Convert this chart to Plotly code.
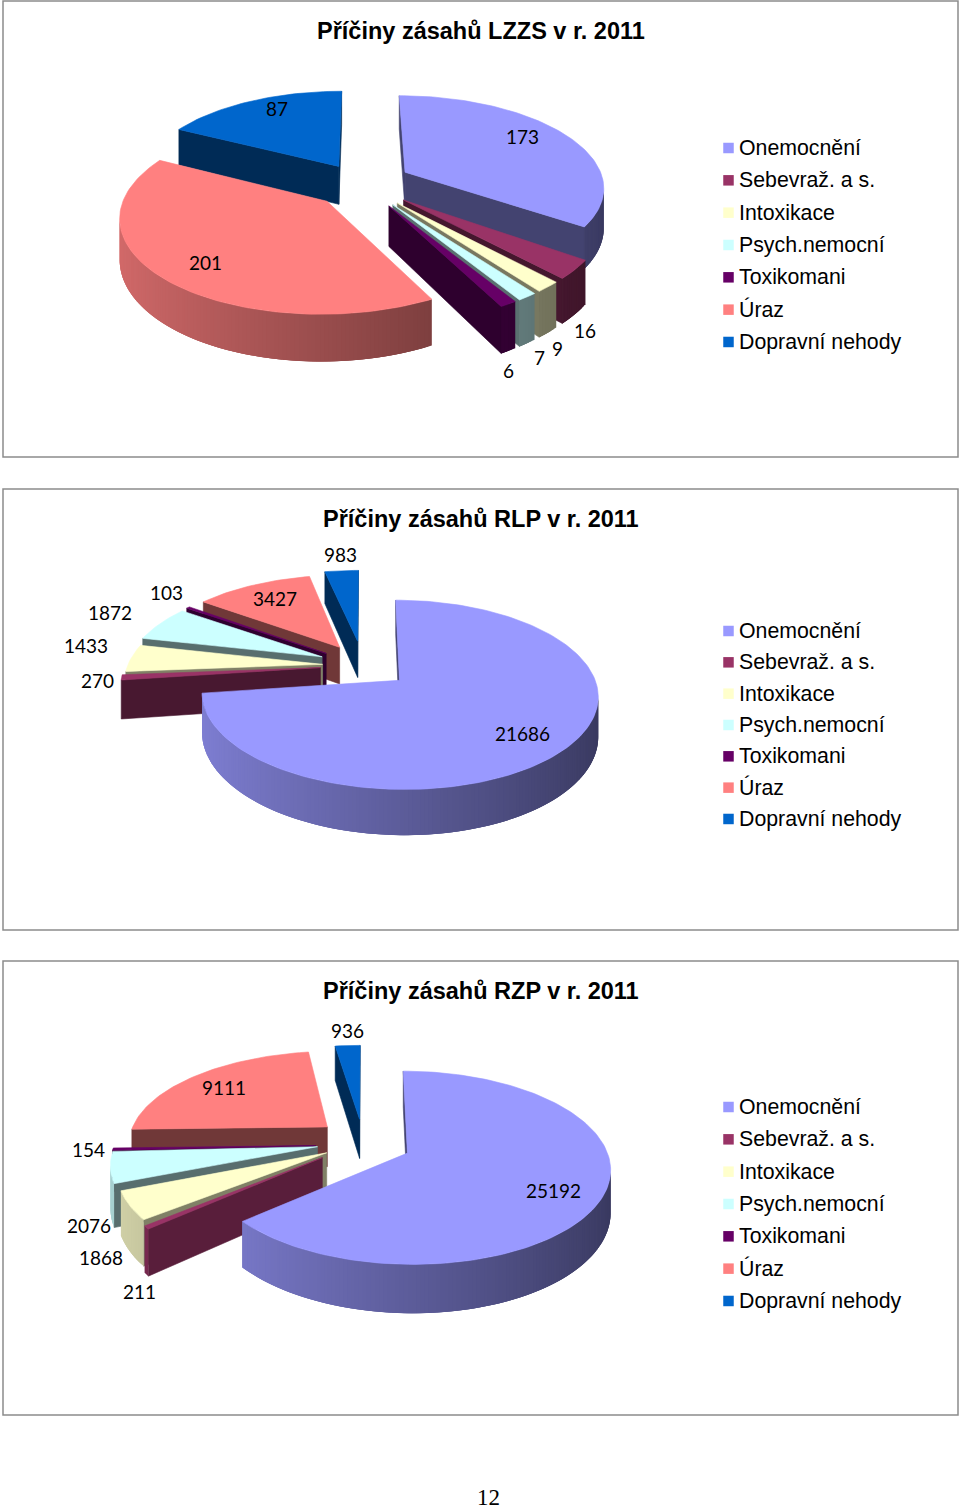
import math
import plotly.graph_objects as go

CATEGORIES = ["Onemocnění", "Sebevraž. a s.", "Intoxikace", "Psych.nemocní", "Toxikomani", "Úraz", "Dopravní nehody"]
LZZS_VALUES = [173, 16, 9, 7, 6, 201, 87]
RLP_VALUES = [21686, 270, 1433, 1872, 103, 3427, 983]
RZP_VALUES = [25192, 211, 1868, 2076, 154, 9111, 936]
TITLES = ["Příčiny zásahů LZZS v r. 2011", "Příčiny zásahů RLP v r. 2011", "Příčiny zásahů RZP v r. 2011"]
PAGE_NUMBER = "12"

COLORS = [(153, 153, 255), (153, 51, 102), (255, 255, 204), (204, 255, 255), (102, 0, 102), (255, 128, 128), (0, 102, 204)]

P = 0.15
CHARTS = [
    dict(values=LZZS_VALUES, title=TITLES[0], cx=360, cy=183, rx=199, ry=91, d=39,
         explode=[.26, .28, .28, .28, .28, .23, .22],
         nudge=[(0, 0), (0, 0), (0, 0), (0, 0), (0, 0), (0, 3), (1, 0)],
         scale=[1, .965, .965, .965, .965, 1, 1],
         order=[6, 0, 5, 1, 2, 3, 4], wall=[.44, .45, .47, .44, .45, .44, .42],
         frame=(3, 1, 958, 457), title_y=31, legend_y=148, legend_step=32.33,
         labels=[(522, 136), (585, 330), (557, 348), (539, 357), (508, 370), (205, 262), (277, 108)]),
    dict(values=RLP_VALUES, title=TITLES[1], cx=370, cy=669, rx=195, ry=89, d=38,
         explode=[.19, .27, .26, .285, .285, .30, .33],
         nudge=[(1, 0), (3, -4), (3, -3), (2, -2), (0, -1), (0, 0), (-6, 0)],
         scale=[.985, 1, 1, 1, 1, 1, 1],
         order=[6, 5, 4, 3, 2, 1, 0], wall=[.44, .47, .5, .43, .45, .44, .42],
         frame=(3, 489, 958, 930), title_y=519, legend_y=631, legend_step=31.33,
         labels=[(522, 733), (97, 680), (86, 645), (110, 612), (166, 592), (275, 598), (340, 554)]),
    dict(values=RZP_VALUES, title=TITLES[2], cx=375, cy=1146.5, rx=201, ry=92.4, d=41,
         explode=[.17, .33, .30, .31, .31, .34, .31],
         nudge=[(1, 0), (0, -9), (5, -8), (4, -6), (3, -2), (3, 0), (-11, 0)],
         scale=[.985, .96, 1, 1, 1, 1, 1],
         order=[6, 5, 4, 3, 2, 1, 0], wall=[.44, .58, .5, .43, .45, .44, .42],
         frame=(3, 961, 958, 1415), title_y=991, legend_y=1107, legend_step=32.33,
         labels=[(553, 1190), (139, 1291), (101, 1257), (89, 1225), (88, 1149), (224, 1087), (347, 1030)]),
]

LABEL_FONT = "Lato, Open Sans, sans-serif"
SANS = "Liberation Sans, Arial, sans-serif"


def rgb(c, f=1.0):
    return "rgb(%d,%d,%d)" % tuple(min(255, round(x * f)) for x in c)


fig = go.Figure()


def poly(xs, ys, color, lw=0.6):
    fig.add_trace(go.Scatter(x=xs + xs[:1], y=ys + ys[:1], mode="lines", fill="toself", fillcolor=color,
                             line=dict(color=color, width=lw), hoverinfo="skip", showlegend=False))


def draw_slice(ch, a1, a2, e, nudge, base, wall_f, sc):
    mid = math.radians((a1 + a2) / 2)
    ou, ov = e * math.sin(mid), e * math.cos(mid)

    def proj(u, v, z=0.0):
        w = 1 + P * v
        return (ch["cx"] + ch["rx"] * u / w + nudge[0], ch["cy"] - ch["ry"] * v / w + ch["d"] * z / w + nudge[1])

    def rim(deg):
        t = math.radians(deg)
        return ou + sc * math.sin(t), ov + math.cos(t)

    def faces_viewer(nu, nv, u, v):
        return nu * (-u) + nv * (-1 / P - v) > 0

    # radial walls
    for ang, off in ((a1, -90), (a2, 90)):
        n = math.radians(ang + off)
        ru, rv = rim(ang)
        if faces_viewer(math.sin(n), math.cos(n), (ou + ru) / 2, (ov + rv) / 2):
            pts = [proj(ou, ov), proj(ru, rv), proj(ru, rv, 1), proj(ou, ov, 1)]
            poly([p[0] for p in pts], [p[1] for p in pts], rgb(base, wall_f))
    # outer wall, as shaded strips, each overlapping the next so no seams show
    n_strips = max(1, int((a2 - a1) / 1.0))
    step = (a2 - a1) / n_strips
    visible = []
    for i in range(n_strips):
        s0, s1 = a1 + i * step, a1 + (i + 1) * step
        m = math.radians((s0 + s1) / 2)
        mu, mv = rim((s0 + s1) / 2)
        if faces_viewer(math.sin(m), math.cos(m), mu, mv):
            visible.append((s0, s1, m))
    for s0, s1, m in visible:
        f = 0.6 - 0.23 * math.sin(m)
        end = min(s1 + 2 * step, visible[-1][1])
        arc = [s0, (s0 + end) / 2, end]
        top = [proj(*rim(a)) for a in arc]
        bot = [proj(*rim(a), 1) for a in reversed(arc)]
        pts = top + bot
        poly([p[0] for p in pts], [p[1] for p in pts], rgb(base, f), lw=0)
    # top face
    n_top = max(2, int((a2 - a1) / 1.5))
    pts = [proj(ou, ov)] + [proj(*rim(a1 + (a2 - a1) * i / n_top)) for i in range(n_top + 1)]
    poly([p[0] for p in pts], [p[1] for p in pts], rgb(base))


annotations = []
shapes = []
for ch in CHARTS:
    x0, y0, x1, y1 = ch["frame"]
    shapes.append(dict(type="rect", x0=x0, y0=y0, x1=x1, y1=y1, xref="x", yref="y",
                       line=dict(color="#8c8c8c", width=1.5), fillcolor="white", layer="below"))
    vals = ch["values"]
    total = sum(vals)
    starts = []
    acc = 0.0
    for v in vals:
        starts.append((acc / total * 360, (acc + v) / total * 360))
        acc += v
    for idx in ch["order"]:
        a1, a2 = starts[idx]
        draw_slice(ch, a1, a2, ch["explode"][idx], ch["nudge"][idx], COLORS[idx], ch["wall"][idx], ch["scale"][idx])
    for v, (lx, ly) in zip(vals, ch["labels"]):
        annotations.append(dict(x=lx, y=ly, text=str(v), showarrow=False, xanchor="center", yanchor="middle",
                                font=dict(family=LABEL_FONT, size=19, color="black")))
    annotations.append(dict(x=480.5, y=ch["title_y"], text="<b>%s</b>" % ch["title"], showarrow=False,
                            xanchor="center", yanchor="middle", font=dict(family=SANS, size=23.5, color="black")))
    ly = [ch["legend_y"] + i * ch["legend_step"] for i in range(len(CATEGORIES))]
    fig.add_trace(go.Scatter(x=[728.5] * len(CATEGORIES), y=ly, mode="markers", hoverinfo="skip", showlegend=False,
                             marker=dict(symbol="square", size=10.5, color=[rgb(c) for c in COLORS], line=dict(width=0))))
    for name, y in zip(CATEGORIES, ly):
        annotations.append(dict(x=736.5, y=y, text=name, showarrow=False, xanchor="left", yanchor="middle",
                                font=dict(family=SANS, size=21.3, color="black")))

annotations.append(dict(x=488.5, y=1497.5, text=PAGE_NUMBER, showarrow=False, xanchor="center", yanchor="middle",
                        font=dict(family="Liberation Serif, serif", size=23, color="black")))

fig.update_layout(width=960, height=1510, margin=dict(l=0, r=0, t=0, b=0), paper_bgcolor="white", plot_bgcolor="white",
                  showlegend=False, shapes=shapes, annotations=annotations,
                  xaxis=dict(range=[0, 960], visible=False, fixedrange=True),
                  yaxis=dict(range=[1510, 0], visible=False, fixedrange=True))
fig.write_html("out.html", config=dict(displayModeBar=False),
               post_script="document.body.style.margin='0';document.documentElement.style.overflow='hidden';")
